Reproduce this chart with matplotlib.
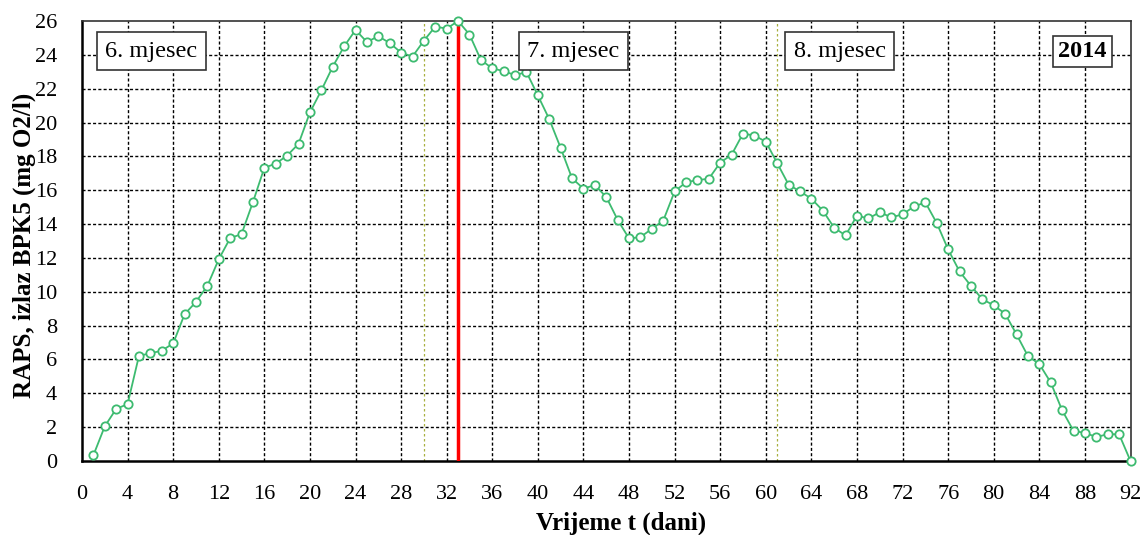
import matplotlib
matplotlib.use("Agg")
import matplotlib.pyplot as plt
import numpy as np

days = list(range(1, 93))
values = [
    0.34, 2.05, 3.08, 3.36, 6.22, 6.36, 6.52, 6.95, 8.67, 9.40,
    10.35, 11.92, 13.17, 13.41, 15.3, 17.33, 17.57, 18.05, 18.74, 20.6,
    21.9, 23.3, 24.5, 25.47, 24.76, 25.1, 24.7, 24.13, 23.9, 24.84,
    25.67, 25.55, 26.0, 25.2, 23.7, 23.2, 23.04, 22.8, 22.98, 21.6,
    20.2, 18.5, 16.7, 16.1, 16.3, 15.6, 14.25, 13.15, 13.23, 13.72,
    14.2, 15.93, 16.47, 16.6, 16.68, 17.63, 18.1, 19.35, 19.23, 18.87,
    17.6, 16.33, 15.93, 15.5, 14.8, 13.78, 13.33, 14.5, 14.33, 14.7,
    14.4, 14.57, 15.04, 15.28, 14.06, 12.5, 11.2, 10.35, 9.56, 9.2,
    8.7, 7.48, 6.2, 5.73, 4.64, 3.0, 1.78, 1.66, 1.42, 1.58,
    1.58, 0.0,
]
x_ticks = list(range(0, 93, 4))
y_ticks = list(range(0, 27, 2))
month_lines = [30, 61]
red_line = 33
month_labels = ["6. mjesec", "7. mjesec", "8. mjesec"]
month_label_x = [6.1, 43.1, 66.5]
year_label = "2014"

plt.rcParams['font.family'] = ['Liberation Serif', 'DejaVu Serif']

fig = plt.figure(figsize=(11.43, 5.35), dpi=100)
ax = fig.add_axes([82/1143, 1 - 461/535, (1130.5-82)/1143, (461-21)/535])

ax.set_xlim(0, 92)
ax.set_ylim(0, 26)
ax.set_xticks(x_ticks)
ax.set_yticks(y_ticks)
ax.tick_params(axis='x', length=0, labelsize=16, pad=17)
ax.tick_params(axis='y', length=0, labelsize=16, pad=18)

for xv in x_ticks[1:-1]:
    ax.axvline(xv, color='black', lw=1.0, ls=(0, (2.2, 1.6)), zorder=1)
for yv in y_ticks[1:-1]:
    ax.axhline(yv, color='black', lw=1.0, ls=(0, (2.2, 1.6)), zorder=1)

for m in month_lines:
    ax.axvline(m, color='#a8b040', lw=0.9, ls=(0, (2, 2)), zorder=2)
ax.axvline(red_line, color='#ff0000', lw=2.5, zorder=3)

ax.plot(days, values, color='#3dbb70', lw=1.3, marker='o', markersize=6,
        markerfacecolor='white', markeredgecolor='#3dbb70', markeredgewidth=1.3,
        zorder=4, clip_on=False)

for sp in ['left', 'bottom']:
    ax.spines[sp].set_linewidth(1.8)
for sp in ['top', 'right']:
    ax.spines[sp].set_linewidth(1.2)
    ax.spines[sp].set_color('#333333')

ax.set_xlabel("Vrijeme t (dani)", fontsize=18, fontweight='bold')
ax.set_ylabel("RAPS, izlaz BPK5 (mg O2/l)", fontsize=18, fontweight='bold')
ax.xaxis.set_label_coords(0.514, -0.114)
ax.yaxis.set_label_coords(-0.044, 0.49)

bbox = dict(boxstyle='square,pad=0.35', facecolor='white', edgecolor='#333333', lw=1.2)
for lbl, xv in zip(month_labels, month_label_x):
    ax.text(xv, 24.2, lbl, fontsize=17.5, ha='center', va='center', bbox=bbox, zorder=6)
ax.text(87.8, 24.2, year_label, fontsize=17.5, fontweight='bold', ha='center', va='center',
        bbox=dict(boxstyle='square,pad=0.22', facecolor='white', edgecolor='#333333', lw=1.2), zorder=6)

fig.savefig("out.png", dpi=100)
